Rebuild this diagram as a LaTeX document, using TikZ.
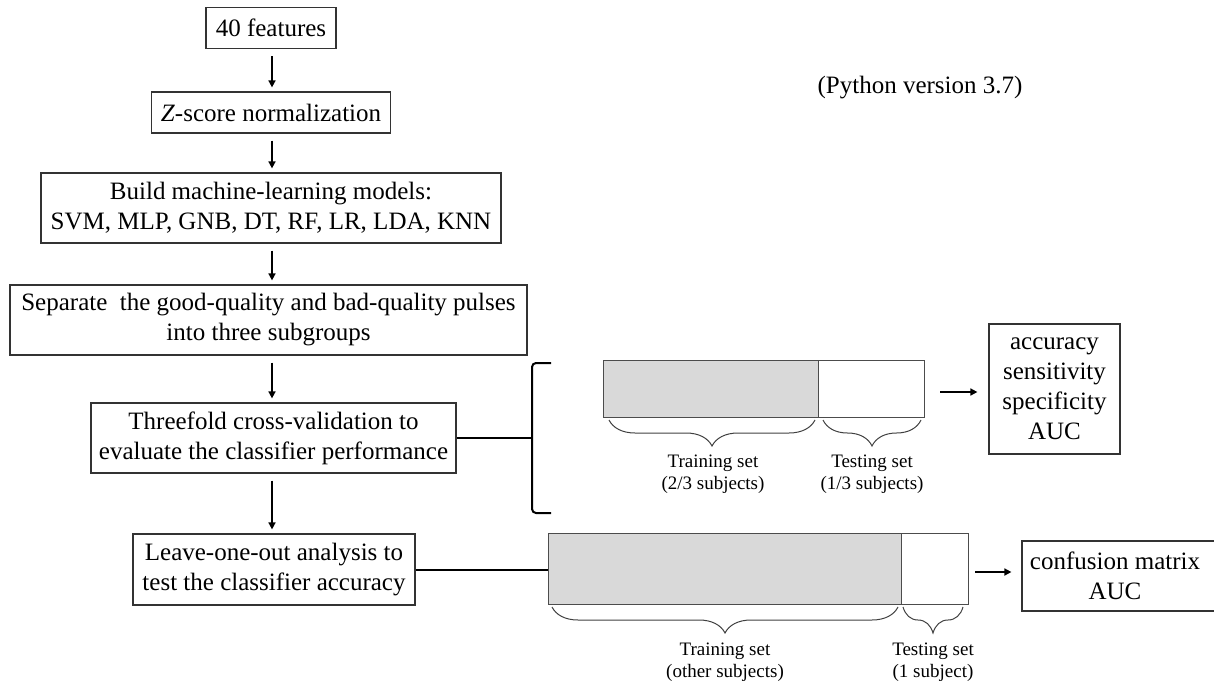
\documentclass[tikz,border=0pt]{standalone}
\usepackage{fontspec}
\setmainfont{Liberation Serif}
\usepackage{tikz}
\usetikzlibrary{
  arrows.meta,
  positioning,
  calc,
  decorations.pathreplacing
}

\begin{document}
\begin{tikzpicture}[x=0.5pt, y=-0.5pt,
  stepbox/.style={draw=black!80, line width=0.6pt, align=center, inner sep=0pt,
    font=\fontsize{12.5}{15}\selectfont},
  arr/.style={-{Triangle[length=3.5pt,width=3.5pt]}, line width=0.8pt,
    shorten <=3.5pt, shorten >=2pt},
  link/.style={line width=1pt},
  trainbar/.style={draw=black!70, line width=0.5pt, fill=gray!30},
  testbar/.style={draw=black!70, line width=0.5pt, fill=white},
  setbrace/.style={draw=black!75, line width=0.5pt,
    decorate, decoration={brace, mirror, amplitude=13pt}},
  setlabel/.style={align=center, font=\fontsize{9.5}{11}\selectfont}
]
\useasboundingbox (0,0) rectangle (1214,690);

% main flow
\node[stepbox, minimum width=65pt, minimum height=20.5pt] (feat) at (271,28) {40 features};
\node[stepbox, minimum width=119.5pt, minimum height=20.5pt] (zs) at (271,112.5) {\textit{Z}-score normalization};
\node[stepbox, minimum width=230pt, minimum height=35pt] (build) at (271,208)
  {Build machine-learning models:\\SVM, MLP, GNB, DT, RF, LR, LDA, KNN};
\node[stepbox, minimum width=258.5pt, minimum height=35pt] (sep) at (268.5,320)
  {Separate \ the good-quality and bad-quality pulses\\into three subgroups};
\node[stepbox, minimum width=182.5pt, minimum height=35pt] (cv) at (273.5,438)
  {Threefold cross-validation to\\evaluate the classifier performance};
\node[stepbox, minimum width=141pt, minimum height=35.5pt] (loo) at (274,569.5)
  {Leave-one-out analysis to\\test the classifier accuracy};

% vertical arrows on one axis
\coordinate (axis) at (272,0);
\draw[arr] (axis |- feat.south) -- (axis |- zs.north);
\draw[arr] (axis |- zs.south) -- (axis |- build.north);
\draw[arr] (axis |- build.south) -- (axis |- sep.north);
\draw[arr] (axis |- sep.south) -- (axis |- cv.north);
\draw[arr] (axis |- cv.south) -- (axis |- loo.north);

\node[font=\fontsize{12.5}{15}\selectfont] (py) at (920,88) {(Python version 3.7)};

% threefold cross-validation
\coordinate (brtop) at (551,363);
\coordinate (brbot) at (551,513);
\draw[link, rounded corners=2pt] (brtop) -- (532,363) -- (532,513) -- (brbot);
\draw[link] (cv.east) -- (532,438);

\draw[trainbar] (603,360) rectangle (818,417);
\draw[testbar] (818,360) rectangle (924,417);
\coordinate (cvend) at (924,392);
\draw[setbrace] (609,420) -- (815,420);
\draw[setbrace] (823,420) -- (921,420);
\node[setlabel] (cvtrlab) at (713,474) {Training set\\(2/3 subjects)};
\node[setlabel] (cvtelab) at (872,474) {Testing set\\(1/3 subjects)};

\node[stepbox, minimum width=65.5pt, minimum height=65pt] (metrics) at (1054.5,389)
  {accuracy\\sensitivity\\specificity\\AUC};
\draw[arr, shorten <=8pt, shorten >=5.5pt] (cvend) -- (metrics.west |- cvend);

% leave-one-out
\draw[trainbar] (548,533) rectangle (901,604);
\draw[testbar] (901,533) rectangle (968,604);
\coordinate (looin) at (548,569.5);
\coordinate (looend) at (968,572);
\draw[link] (loo.east) -- (looin);
\draw[setbrace] (552,607) -- (898,607);
\draw[setbrace] (903,607) -- (963,607);
\node[setlabel] (lootrlab) at (725,662) {Training set\\(other subjects)};
\node[setlabel] (lootelab) at (933,662) {Testing set\\(1 subject)};

% box runs off the right edge
\node[stepbox, minimum width=103pt, minimum height=35pt] (conf) at (1125,576)
  {confusion matrix\hspace*{10pt}\\AUC\hspace*{10pt}};
\draw[arr, shorten <=3.5pt, shorten >=5pt] (looend) -- (conf.west |- looend);
\end{tikzpicture}
\end{document}
